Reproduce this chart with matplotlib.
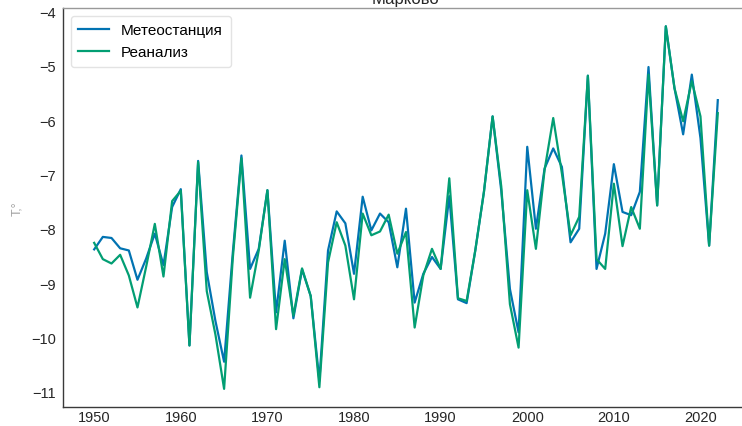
import numpy as np
import matplotlib
matplotlib.use("Agg")
import matplotlib.pyplot as plt

years = list(range(1950, 2023))

# станция (blue)
meteo = [-8.38, -8.15, -8.17, -8.36, -8.40, -8.94, -8.55, -8.09, -8.67, -7.60,
         -7.27, -10.15, -6.75, -8.80, -9.70, -10.45, -8.45, -6.65, -8.74, -8.37,
         -7.29, -9.54, -8.22, -9.65, -8.75, -9.24, -10.80, -8.40, -7.68, -7.90,
         -8.83, -7.41, -8.03, -7.72, -7.88, -8.71, -7.63, -9.36, -8.83, -8.52,
         -8.74, -7.40, -9.30, -9.37, -8.40, -7.32, -5.93, -7.30, -9.11, -9.91,
         -6.49, -8.00, -6.89, -6.52, -6.86, -8.25, -8.00, -5.18, -8.74, -8.09,
         -6.81, -7.69, -7.75, -7.32, -5.02, -7.57, -4.27, -5.41, -6.26, -5.16,
         -6.33, -8.31, -5.63]

# реанализ (green)
reanalysis = [-8.26, -8.56, -8.64, -8.48, -8.86, -9.45, -8.70, -7.91, -8.88, -7.49,
              -7.30, -10.15, -6.77, -9.15, -9.95, -10.95, -8.55, -6.70, -9.27, -8.40,
              -7.29, -9.85, -8.56, -9.60, -8.73, -9.24, -10.92, -8.62, -7.88, -8.31,
              -9.30, -7.72, -8.12, -8.05, -7.74, -8.46, -8.06, -9.82, -8.86, -8.37,
              -8.74, -7.07, -9.28, -9.33, -8.40, -7.32, -5.93, -7.22, -9.39, -10.19,
              -7.29, -8.37, -6.92, -5.96, -6.98, -8.12, -7.78, -5.18, -8.56, -8.74,
              -7.17, -8.32, -7.60, -8.00, -5.16, -7.57, -4.27, -5.41, -6.02, -5.28,
              -5.93, -8.31, -5.87]

plt.rcParams['font.family'] = ['Liberation Sans', 'DejaVu Sans']

fig = plt.figure(figsize=(7.42, 4.27), dpi=100)
ax = fig.add_axes([0.0849, 0.0445, 0.9245, 0.934])

ax.plot(years, meteo, color='#0173b2', lw=1.6, label='Метеостанция')
ax.plot(years, reanalysis, color='#029e73', lw=1.6, label='Реанализ')

ax.set_title('Марково', fontsize=12, pad=3.5, color='#262626')
ax.set_ylabel('T,°', color='#a0a0a0', fontsize=9, labelpad=6)
ax.set_xticks([1950, 1960, 1970, 1980, 1990, 2000, 2010, 2020])
ax.set_yticks([-11, -10, -9, -8, -7, -6, -5, -4])
ax.tick_params(length=0, labelsize=10.5, labelcolor='#262626')
ax.tick_params(axis='x', pad=2)
ax.tick_params(axis='y', pad=5)
for s in ax.spines.values():
    s.set_color('#3a3a3a')
    s.set_linewidth(1.0)
ax.spines['top'].set_color('#999999')

leg = ax.legend(loc='upper left', fontsize=11, frameon=True, fancybox=True,
                borderpad=0.5, handlelength=2.0)
leg.get_frame().set_edgecolor('#dddddd')

fig.savefig("out.png", dpi=100)
